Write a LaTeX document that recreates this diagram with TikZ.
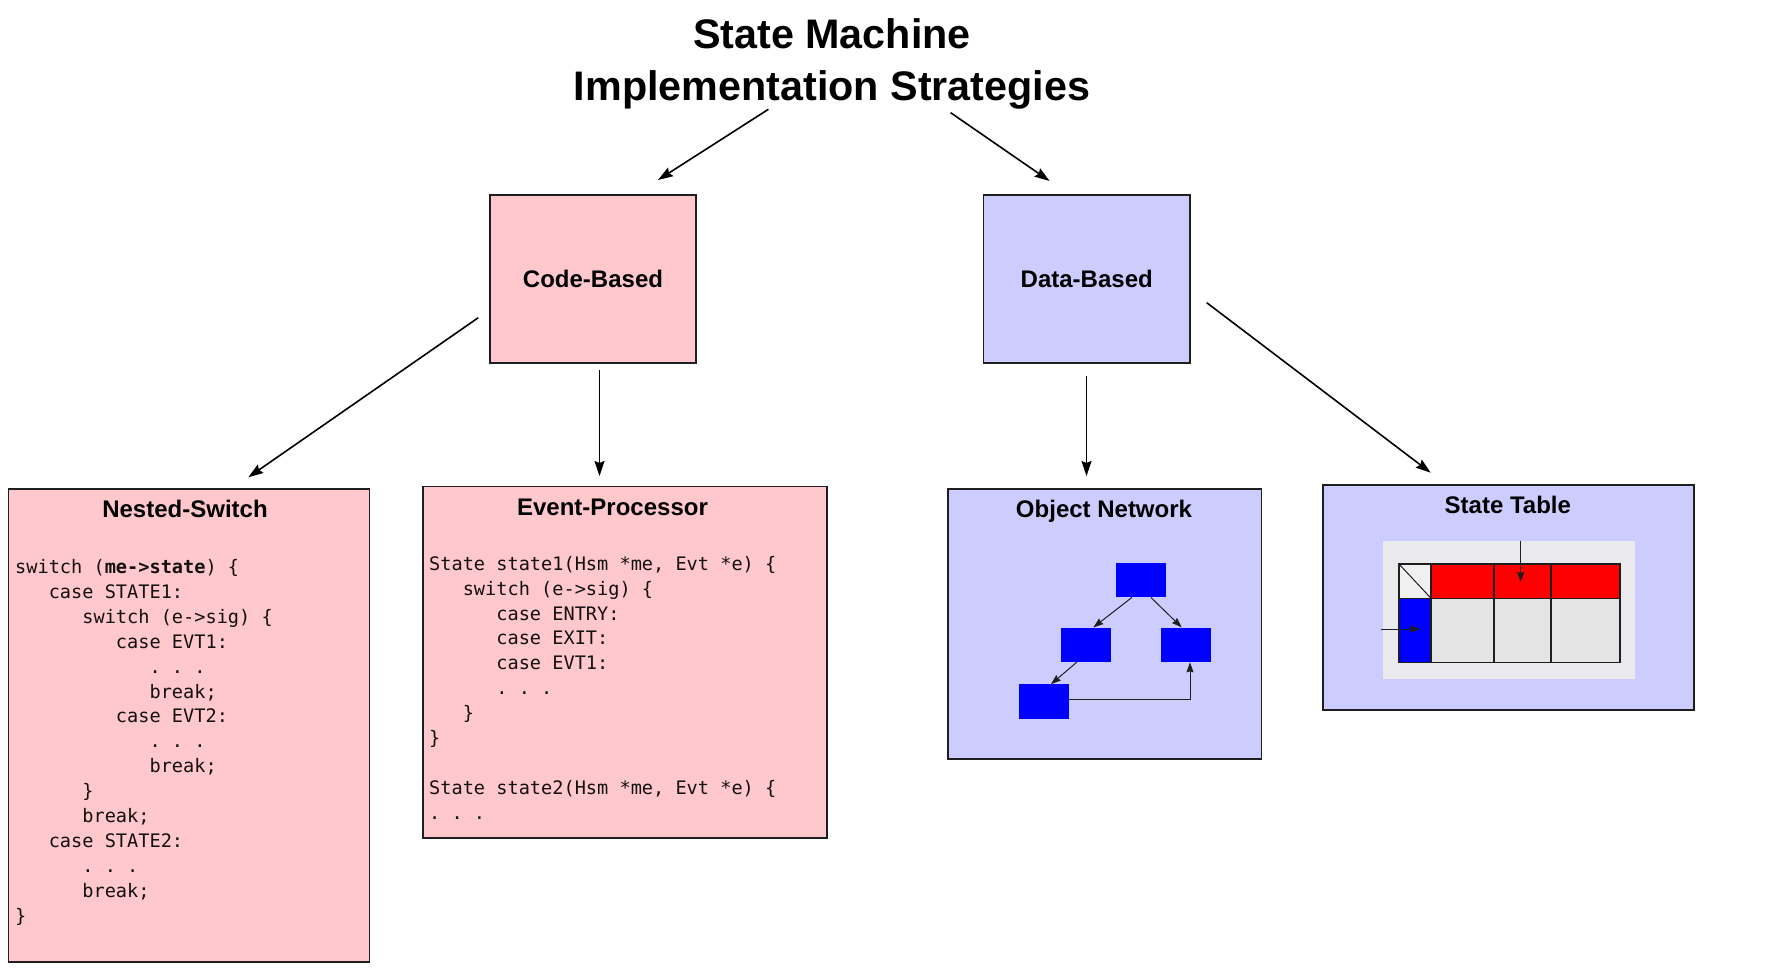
\documentclass[tikz,border=0pt]{standalone}
\usepackage{fontspec}
\setmainfont{Liberation Sans}
\newfontfamily\codefont{DejaVu Sans Mono}
\usetikzlibrary{arrows.meta,calc}
\definecolor{pinkfill}{RGB}{255,200,204}
\definecolor{lavfill}{RGB}{204,204,255}
\definecolor{boxline}{RGB}{30,30,30}
\definecolor{codecol}{RGB}{20,16,16}
\definecolor{panelgray}{RGB}{234,234,238}
\definecolor{cellgray}{RGB}{228,228,228}
\definecolor{cornergray}{RGB}{240,240,240}
\definecolor{netblue}{RGB}{0,0,255}
\definecolor{tabred}{RGB}{255,0,0}
\begin{document}
\begin{tikzpicture}[x=1pt,y=-1pt,
  bigbox/.style={draw=boxline, line width=1.8pt, inner sep=0pt, anchor=center},
  pinkbox/.style={bigbox, fill=pinkfill},
  lavbox/.style={bigbox, fill=lavfill},
  lbl/.style={font=\fontsize{24}{28}\selectfont\bfseries, inner sep=0pt},
  code/.style={font=\codefont\fontsize{18.6}{24.9}\selectfont, text=codecol, align=left, inner sep=0pt, anchor=north west},
  mainarrow/.style={line width=1.6pt, draw=black, -{Stealth[length=15pt,width=10pt,inset=2pt]}},
  smallarrow/.style={line width=1pt, draw=boxline, -{Stealth[length=10pt,width=7pt,inset=1pt]}},
  bluebox/.style={fill=netblue, minimum width=50pt, minimum height=34.5pt, inner sep=0pt},
  gridline/.style={draw=boxline, line width=1.2pt}
]
\useasboundingbox (0,0) rectangle (1785,973);
\fill[white] (0,0) rectangle (1785,973);

% title
\node[anchor=north, align=center, inner sep=0pt, font=\fontsize{41.3}{51.7}\selectfont\bfseries] (title) at (832,16.3) {\rule{0pt}{32pt}State Machine\\Implementation Strategies};

% level 1
\node[pinkbox, lbl, minimum width=206pt, minimum height=168pt] (code) at (593,279.4) {Code-Based};
\node[lavbox, lbl, minimum width=206.5pt, minimum height=168pt] (data) at (1086.75,279.4) {Data-Based};

% Nested-Switch
\node[pinkbox, minimum width=361pt, minimum height=473pt] (nested) at (189,725.5) {};
\node[lbl, anchor=base] (nestedlbl) at (185,517.5) {Nested-Switch};
\node[code] (nestedcode) at (15,558.3) {\rule{0pt}{15pt}switch (\textbf{me->state}) \{\\
~~~case STATE1:\\
~~~~~~switch (e->sig) \{\\
~~~~~~~~~case EVT1:\\
~~~~~~~~~~~~.~.~.\\
~~~~~~~~~~~~break;\\
~~~~~~~~~case EVT2:\\
~~~~~~~~~~~~.~.~.\\
~~~~~~~~~~~~break;\\
~~~~~~\}\\
~~~~~~break;\\
~~~case STATE2:\\
~~~~~~.~.~.\\
~~~~~~break;\\
\}};

% Event-Processor
\node[pinkbox, minimum width=404.3pt, minimum height=351.5pt] (event) at (625.15,662.25) {};
\node[lbl, anchor=base] (eventlbl) at (612.5,515) {Event-Processor};
\node[code] (eventcode) at (429,555) {\rule{0pt}{15pt}State state1(Hsm *me, Evt *e) \{\\
~~~switch (e->sig) \{\\
~~~~~~case ENTRY:\\
~~~~~~case EXIT:\\
~~~~~~case EVT1:\\
~~~~~~.~.~.\\
~~~\}\\
\}\\
~\\
State state2(Hsm *me, Evt *e) \{\\
.~.~.};

% Object Network
\node[lavbox, minimum width=313.8pt, minimum height=270.3pt] (objnet) at (1104.6,623.85) {};
\node[lbl, anchor=base] (objlbl) at (1104,517.3) {Object Network};
\node[bluebox] (ntop) at (1140.9,580) {};
\node[bluebox] (nml) at (1086.35,644.85) {};
\node[bluebox] (nmr) at (1185.7,644.85) {};
\node[bluebox] (nbl) at (1044,701.65) {};
\draw[smallarrow] ($(ntop.south)+(-9,0)$) -- ($(nml.north)+(7,0)$);
\draw[smallarrow] ($(ntop.south)+(10,0)$) -- ($(nmr.north)+(-4,0)$);
\draw[smallarrow] ($(nml.south)+(-9.7,0)$) -- ($(nbl.north)+(7,0)$);
\draw[smallarrow] ($(nbl.east)+(0,-2.5)$) -| ($(nmr.south)+(4.3,0)$);

% State Table
\node[lavbox, minimum width=371.3pt, minimum height=225pt] (stable) at (1508.35,597.5) {};
\node[lbl, anchor=base] (stlbl) at (1507.8,513.3) {State Table};
\fill[panelgray] (1382.7,540.7) rectangle (1635,679.3);
\fill[cornergray] (1399,564) rectangle (1431,598.3);
\fill[tabred] (1431,564) rectangle (1620,598.3);
\fill[netblue] (1399,598.3) rectangle (1431,662.7);
\fill[cellgray] (1431,598.3) rectangle (1620,662.7);
\draw[gridline] (1399,564) rectangle (1620,662.7);
\draw[gridline] (1399,598.3) -- (1620,598.3);
\draw[gridline] (1431,564) -- (1431,662.7);
\draw[gridline] (1494,564) -- (1494,662.7);
\draw[gridline] (1551,564) -- (1551,662.7);
\draw[boxline, line width=1pt] (1399,564) -- (1431,598.3);
\coordinate (sta) at (1520.7,540.7);
\coordinate (stb) at (1520.7,582);
\coordinate (stc) at (1381,629);
\coordinate (std) at (1420,629);
\draw[smallarrow] (sta) -- (stb);
\draw[smallarrow] (stc) -- (std);

% main connectors
\coordinate (t1s) at (768.4,109.3);
\coordinate (t1e) at (658,180);
\coordinate (t2s) at (950.6,112.7);
\coordinate (t2e) at (1049.6,181);
\coordinate (c1s) at (478.3,317.7);
\coordinate (c1e) at (248.3,477.3);
\coordinate (c2s) at (599.5,370);
\coordinate (c2e) at (599.5,476);
\coordinate (d1s) at (1086.5,376);
\coordinate (d1e) at (1086.5,476);
\coordinate (d2s) at (1206.7,302.7);
\coordinate (d2e) at (1430.7,472.7);
\draw[mainarrow] (t1s) -- (t1e);
\draw[mainarrow] (t2s) -- (t2e);
\draw[mainarrow] (c1s) -- (c1e);
\draw[mainarrow] (c2s) -- (c2e);
\draw[mainarrow] (d1s) -- (d1e);
\draw[mainarrow] (d2s) -- (d2e);
\end{tikzpicture}
\end{document}
